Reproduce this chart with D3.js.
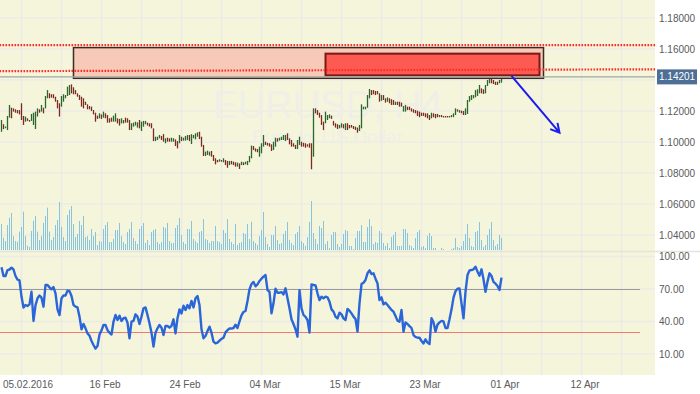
<!DOCTYPE html>
<html>
<head>
<meta charset="utf-8">
<script src="https://cdn.jsdelivr.net/npm/d3@7"></script>
<style>
  body { margin: 0; background: #fff; }
  svg { display: block; font-family: "Liberation Sans", Arial, sans-serif; }
</style>
</head>
<body>
<div id="chart"></div>
<script>
// EURUSD H4, one entry per bar
const barHigh = [
  1.1142,1.1115,1.1100,1.1168,1.1239,1.1221,1.1217,1.1211,1.1206,1.1206,
  1.1250,1.1168,1.1164,1.1153,1.1142,1.1181,1.1189,1.1196,1.1217,1.1211,
  1.1239,1.1221,1.1297,1.1335,1.1314,1.1308,1.1308,1.1292,1.1271,1.1250,
  1.1297,1.1308,1.1303,1.1357,1.1368,1.1372,1.1353,1.1335,1.1314,1.1303,
  1.1292,1.1282,1.1260,1.1243,1.1232,1.1228,1.1206,1.1189,1.1170,1.1185,
  1.1178,1.1196,1.1185,1.1174,1.1153,1.1157,1.1170,1.1185,1.1153,1.1149,
  1.1153,1.1142,1.1157,1.1153,
  1.1142,1.1121,1.1125,1.1131,1.1127,1.1142,1.1131,1.1136,1.1136,1.1125,
  1.1121,1.1121,1.1088,1.1034,1.1034,1.1045,1.1039,1.1051,1.1024,1.1028,
  1.1024,1.1028,1.1024,1.1017,1.1006,1.1045,1.1034,1.1028,1.1039,1.1045,
  1.1045,1.1051,1.1045,1.1056,1.1062,1.1066,1.1034,1.0981,1.0938,1.0944,
  1.0938,1.0942,1.0916,1.0895,1.0884,1.0889,1.0884,1.0895,1.0884,1.0878,
  1.0878,1.0878,1.0873,1.0869,1.0867,1.0862,1.0873,1.0869,1.0873,1.0878,
  1.0910,1.0977,
  1.0974,1.0959,1.0955,1.0970,1.0992,1.1045,1.1002,1.0995,1.0992,1.0985,
  1.1002,1.1028,1.1024,1.1028,1.1034,1.1045,1.1045,1.1056,1.1024,1.1013,
  1.0992,1.0981,1.1013,1.1034,1.1002,1.0995,1.0992,1.0985,1.0992,1.0992,
  1.1217,1.1217,1.1206,1.1189,1.1174,1.1131,1.1196,1.1174,1.1178,1.1170,
  1.1136,1.1121,1.1115,1.1110,1.1121,1.1115,1.1121,1.1121,1.1110,1.1110,
  1.1103,1.1099,1.1093,1.1110,1.1243,1.1228,1.1228,1.1303,1.1342,1.1335,
  1.1335,1.1329,1.1329,
  1.1314,1.1303,1.1303,1.1282,1.1288,1.1282,1.1276,1.1271,1.1260,1.1260,
  1.1260,1.1254,1.1232,1.1239,1.1228,1.1228,1.1217,1.1211,1.1206,1.1202,
  1.1196,1.1189,1.1189,1.1185,1.1185,1.1174,1.1189,1.1185,1.1181,1.1181,
  1.1174,1.1174,1.1168,1.1168,1.1168,1.1168,1.1174,1.1185,1.1217,1.1211,
  1.1206,1.1202,1.1200,1.1217,1.1271,1.1297,1.1303,1.1303,1.1335,1.1340,
  1.1368,1.1346,1.1340,1.1368,1.1400,1.1415,1.1411,1.1400,1.1389,1.1389,
  1.1400,1.1432
];
const barLow = [
  1.1066,1.1083,1.1089,1.1077,1.1157,1.1153,1.1196,1.1189,1.1185,1.1178,
  1.1142,1.1110,1.1131,1.1136,1.1131,1.1136,1.1110,1.1084,1.1164,1.1189,
  1.1196,1.1185,1.1217,1.1282,1.1282,1.1286,1.1282,1.1260,1.1217,1.1164,
  1.1228,1.1260,1.1282,1.1297,1.1303,1.1314,1.1308,1.1308,1.1292,1.1271,
  1.1228,1.1217,1.1239,1.1211,1.1211,1.1200,1.1178,1.1131,1.1149,1.1153,
  1.1149,1.1157,1.1153,1.1125,1.1125,1.1131,1.1131,1.1131,1.1120,1.1106,
  1.1120,1.1120,1.1125,1.1125,
  1.1077,1.1077,1.1099,1.1106,1.1093,1.1088,1.1071,1.1099,1.1115,1.1106,
  1.1099,1.1088,1.1006,1.1006,1.1013,1.1024,1.1013,1.1002,1.0992,1.1002,
  1.1002,1.1002,1.1002,1.0974,1.0959,1.0992,1.1006,1.1009,1.1009,1.1013,
  1.1006,1.0987,1.1024,1.1017,1.1034,1.1019,1.0970,1.0910,1.0910,1.0916,
  1.0912,1.0905,1.0878,1.0856,1.0869,1.0873,1.0873,1.0869,1.0851,1.0834,
  1.0851,1.0856,1.0851,1.0841,1.0841,1.0826,1.0851,1.0851,1.0856,1.0851,
  1.0869,1.0895,
  1.0948,1.0938,1.0934,1.0905,1.0927,1.0970,1.0981,1.0977,1.0970,1.0942,
  1.0948,1.0970,1.1002,1.1009,1.1013,1.1013,1.1006,1.1013,1.0985,1.0970,
  1.0970,1.0955,1.0955,1.0981,1.0970,1.0970,1.0963,1.0970,1.0963,1.0824,
  1.0905,1.1185,1.1174,1.1157,1.1110,1.1077,1.1121,1.1142,1.1153,1.1149,
  1.1106,1.1093,1.1084,1.1088,1.1093,1.1088,1.1077,1.1077,1.1088,1.1093,
  1.1084,1.1077,1.1060,1.1071,1.1088,1.1211,1.1211,1.1221,1.1282,1.1303,
  1.1308,1.1303,1.1308,
  1.1260,1.1266,1.1271,1.1254,1.1260,1.1250,1.1239,1.1239,1.1239,1.1239,
  1.1228,1.1228,1.1196,1.1196,1.1206,1.1206,1.1196,1.1189,1.1185,1.1168,
  1.1160,1.1168,1.1168,1.1160,1.1153,1.1142,1.1153,1.1160,1.1153,1.1160,
  1.1160,1.1160,1.1160,1.1160,1.1160,1.1160,1.1160,1.1160,1.1174,1.1196,
  1.1189,1.1185,1.1174,1.1174,1.1181,1.1260,1.1271,1.1282,1.1288,1.1297,
  1.1314,1.1314,1.1310,1.1314,1.1361,1.1379,1.1379,1.1374,1.1368,1.1368,
  1.1379,1.1383
];
// u = bullish bar, d = bearish bar
const barDir = (
  'uduuuddddd' + 'ddudduuuud' + 'uduudddddd' + 'uuuuuddddd' + 'dddddddddu' + 'dudddduudd' + 'uudd' +
  'duuuuduuud' + 'ddduuuddud' + 'duudduduuu' + 'duuuuddduu' + 'uddddududd' + 'udddududuu' + 'uu' +
  'ddduuudddd' + 'uuduuuuddd' + 'dduudddddd' + 'uddddduuud' + 'ddduududdd' + 'ddduuuuuud' + 'ddd' +
  'duddudddud' + 'dduudddddd' + 'dddddduddd' + 'uddddduuud' + 'udduuuuuuu' + 'udduuudddd' + 'uu'
).split('');

const volumes = [
  780,370,270,750,970,1110,420,270,250,550,
  690,1150,420,130,90,570,880,1020,550,300,
  420,810,1020,1270,550,300,390,750,900,1440,
  690,390,270,1050,1210,1320,780,390,480,870,
  750,1020,390,420,300,630,420,540,150,270,
  240,630,750,840,240,240,330,600,600,810,
  420,240,180,540,630,840,360,270,180,630,
  720,810,210,300,150,540,600,630,240,180,
  240,690,660,810,270,210,210,660,750,960,
  450,240,180,630,630,870,330,270,210,540,
  570,930,330,300,210,270,270,720,270,240,
  180,600,510,930,330,240,180,780,150,210,
  240,510,480,780,330,
  850,270,210,150,420,600,1140,390,180,90,
  450,450,720,300,180,210,480,570,840,300,
  210,150,480,540,720,270,210,120,390,840,
  1470,510,330,180,720,660,870,180,270,60,
  450,540,540,180,90,180,480,600,570,120,
  120,30,360,570,570,750,240,240,690,930,
  720,180,240,210,570,510,210,120,210,60,
  390,450,540,120,120,120,630,630,510,150,
  120,60,360,540,600,90,120,60,420,510,
  420,60,60,0,0,60,30,0,0,0,
  30,60,360,90,60,120,270,480,780,360,
  120,90,540,570,840,300,90,150,450,630,
  840,300,120,180,450,360
];

const oscValues = [
  90,82,82,87.5,88,89.7,88,82,78.6,78,
  63,52.8,55.2,54.3,55.8,67.5,40.5,55,61.4,64,
  62,53.7,73.7,73.7,71.5,69.7,71.8,66,51.2,46,
  61.4,64,64,68.5,68,63.5,55.2,53.7,53,44.5,
  32.8,37.7,33.7,29,27,22,18.3,15,17.4,28,
  31.8,36.8,36.8,32,29.7,28,39.8,46,41.4,45.4,
  40.5,43,43.5,39,24.5,39.8,40.5,46.6,44.5,37.7,
  44.5,52.2,53,46,38.3,29.7,16.8,29.7,33.7,36.8,
  34.3,27.5,35.8,35.8,34.3,36,42,29,43,51.2,
  47.5,54.6,50.6,55.2,52.2,59,53,61.4,63.5,55.2,
  32.8,24.5,26.6,31.2,35.2,29.7,21.4,19.8,20.5,22.3,
  24,25,30,32,33.5,33.5,34,37,34,40,
  45.7,48.8,49.7,58.9,69.7,74.6,76.5,72.5,74.3,77.4,
  79.5,81.4,82.9,69,67.5,47.5,56.8,70.3,66.6,66.6,
  67.2,65,70.6,61.4,52.2,42,37.7,32.8,26,69,
  52.2,46,44.2,41.4,29.7,74.3,73.7,73.4,66,59.8,
  62.9,61.4,62.9,62.3,58.3,51.2,49.1,44.5,42.9,48.2,
  46.6,42.9,41.4,51.5,50,47.5,44.5,42.3,30.6,56.8,
  74.6,75.8,78.3,84.5,87.2,83.8,84.5,79.5,75.2,59.8,
  62.3,55.8,57.4,55.2,53,50.6,49.1,45,40.8,39.8,
  50.6,30.6,39.2,37.7,35.8,34,27.5,25.7,25,25,
  22,19.8,23.5,20.5,19.2,43,39.2,30.6,37.1,39.2,
  40.5,40,34,34,42,51,62,68,70.3,70.5,
  56.8,42.9,67.5,82.9,87.2,87.5,88.2,90.6,86,82.3,
  88.2,78.9,67.5,76.8,84.5,82,76.5,74.9,72.8,69,
  80.5
];

const priceTicks = [1.04, 1.06, 1.08, 1.10, 1.12, 1.14, 1.16, 1.18];
const oscTicks = [10, 40, 70, 100];
const oscLevels = [70, 30];
const dateBars = [10, 50, 90, 130, 170, 210, 250, 290];
const dateLabels = ['05.02.2016', '16 Feb', '24 Feb', '04 Mar', '15 Mar', '23 Mar', '01 Apr', '12 Apr'];
const lastPrice = 1.14201;

// drawn objects (bar index / price)
const zoneBars = [36, 271];
const zonePrices = [1.1609, 1.1411];
const targetBars = [162, 269];
const targetPrices = [1.1570, 1.1430];
const levelBars = [-1, 327];
const levelUpper = [1.1625, 1.1625];
const levelLower = [1.1457, 1.1469];
const arrowBars = [255, 279];
const arrowPrices = [1.1426, 1.1060];

const W = 700, H = 394;
const plotRight = 655, plotBottom = 375;

const x = d3.scaleLinear().domain([0, 1]).range([1.5, 3.5]);
const yP = d3.scaleLinear().domain([1.04, 1.18]).range([235, 18]);
const yV = d3.scaleLinear().domain([0, 1650]).range([250, 195]);
const yO = d3.scaleLinear().domain([10, 100]).range([354, 256.5]);

const svg = d3.select('#chart').append('svg')
  .attr('width', W)
  .attr('height', H);

svg.append('rect').attr('width', W).attr('height', H).attr('fill', '#fff');
svg.append('rect')
  .attr('width', plotRight).attr('height', plotBottom)
  .attr('fill', '#f5f5dc');

// grid
const grid = svg.append('g').attr('stroke', '#ebebe4').attr('stroke-width', 1.5);
grid.selectAll('line.h')
  .data(priceTicks)
  .enter().append('line')
  .attr('class', 'h')
  .attr('x1', 0).attr('x2', plotRight)
  .attr('y1', d => yP(d)).attr('y2', d => yP(d));
grid.selectAll('line.o')
  .data(oscTicks)
  .enter().append('line')
  .attr('class', 'o')
  .attr('x1', 0).attr('x2', plotRight)
  .attr('y1', d => yO(d)).attr('y2', d => yO(d));
grid.selectAll('line.v')
  .data(d3.range(10, 311, 20))
  .enter().append('line')
  .attr('class', 'v')
  .attr('x1', d => x(d)).attr('x2', d => x(d))
  .attr('y1', 0).attr('y2', plotBottom);

// pane separator
svg.append('line')
  .attr('x1', 0).attr('x2', W)
  .attr('y1', 251.5).attr('y2', 251.5)
  .attr('stroke', '#e4e4dc').attr('stroke-width', 1.5);

// watermark
svg.append('text')
  .attr('x', plotRight / 2).attr('y', 118)
  .attr('text-anchor', 'middle')
  .attr('font-size', 38)
  .attr('fill', '#efefe8')
  .text('EURUSD, H4');
svg.append('text')
  .attr('x', plotRight / 2).attr('y', 143)
  .attr('text-anchor', 'middle')
  .attr('font-size', 19)
  .attr('fill', '#efefe8')
  .text('Euro vs US Dollar');

// oscillator levels
svg.selectAll('line.level')
  .data(oscLevels)
  .enter().append('line')
  .attr('class', 'level')
  .attr('x1', 0).attr('x2', 640)
  .attr('y1', d => Math.round(yO(d)) + 0.5).attr('y2', d => Math.round(yO(d)) + 0.5)
  .attr('stroke', d => d === 70 ? '#9a9a9a' : '#f07a70')
  .attr('stroke-width', 1);

// volume
svg.append('g').selectAll('line')
  .data(volumes)
  .enter().append('line')
  .attr('x1', (d, i) => x(i)).attr('x2', (d, i) => x(i))
  .attr('y1', yV(0)).attr('y2', d => yV(d))
  .attr('stroke', '#86c4df')
  .attr('stroke-width', 1);

// price bars
svg.append('g').selectAll('line')
  .data(barHigh)
  .enter().append('line')
  .attr('x1', (d, i) => x(i)).attr('x2', (d, i) => x(i))
  .attr('y1', d => yP(d))
  .attr('y2', (d, i) => Math.max(yP(barLow[i]), yP(d) + 1.5))
  .attr('stroke', (d, i) => barDir[i] === 'u' ? '#2b672d' : '#7b2b22')
  .attr('stroke-width', 1.3);

// zones
svg.append('rect')
  .attr('x', x(zoneBars[0])).attr('y', yP(zonePrices[0]))
  .attr('width', x(zoneBars[1]) - x(zoneBars[0]))
  .attr('height', yP(zonePrices[1]) - yP(zonePrices[0]))
  .attr('fill', '#f6cab6')
  .attr('stroke', '#3c2a24').attr('stroke-width', 1.5);
svg.append('rect')
  .attr('x', x(targetBars[0])).attr('y', yP(targetPrices[0]))
  .attr('width', x(targetBars[1]) - x(targetBars[0]))
  .attr('height', yP(targetPrices[1]) - yP(targetPrices[0]))
  .attr('fill', '#fd5a52')
  .attr('stroke', '#7a1a18').attr('stroke-width', 2);

// dotted levels
[levelUpper, levelLower].forEach(lv => {
  svg.append('line')
    .attr('x1', x(levelBars[0])).attr('x2', x(levelBars[1]))
    .attr('y1', yP(lv[0])).attr('y2', yP(lv[1]))
    .attr('stroke', '#ff2b2b')
    .attr('stroke-width', 2.2)
    .attr('stroke-dasharray', '1.6,1.4');
});

// current price
svg.append('line')
  .attr('x1', 0).attr('x2', plotRight)
  .attr('y1', yP(lastPrice)).attr('y2', yP(lastPrice))
  .attr('stroke', '#9ea8a2').attr('stroke-width', 1.2);

// arrow
const ax0 = x(arrowBars[0]), ay0 = yP(arrowPrices[0]);
const ax1 = x(arrowBars[1]), ay1 = yP(arrowPrices[1]);
const ang = Math.atan2(ay1 - ay0, ax1 - ax0);
const head = 10;
svg.append('path')
  .attr('d', `M${ax0},${ay0}L${ax1},${ay1}` +
    `M${ax1 - head * Math.cos(ang - 0.5)},${ay1 - head * Math.sin(ang - 0.5)}L${ax1},${ay1}` +
    `L${ax1 - head * Math.cos(ang + 0.5)},${ay1 - head * Math.sin(ang + 0.5)}`)
  .attr('fill', 'none')
  .attr('stroke', '#1c1cf0')
  .attr('stroke-width', 2);

// oscillator
svg.append('path')
  .datum(oscValues)
  .attr('d', d3.line().x((d, i) => x(i)).y(d => yO(d)))
  .attr('fill', 'none')
  .attr('stroke', '#2b66d9')
  .attr('stroke-width', 2.4)
  .attr('stroke-linejoin', 'round');

// axes
const gPrice = svg.append('g')
  .attr('transform', `translate(${plotRight},0)`)
  .call(d3.axisRight(yP)
    .tickValues(priceTicks.filter(t => t !== 1.14))
    .tickFormat(d3.format('.5f'))
    .tickSize(0).tickPadding(4));
const gOsc = svg.append('g')
  .attr('transform', `translate(${plotRight},0)`)
  .call(d3.axisRight(yO)
    .tickValues(oscTicks)
    .tickFormat(d3.format('.2f'))
    .tickSize(0).tickPadding(4));
const gDate = svg.append('g')
  .attr('transform', `translate(3,${plotBottom})`)
  .call(d3.axisBottom(x)
    .tickValues(dateBars)
    .tickFormat((d, i) => dateLabels[i])
    .tickSize(0).tickPadding(6));
[gPrice, gOsc, gDate].forEach(g => {
  g.select('.domain').remove();
  g.selectAll('text')
    .attr('font-family', '"Liberation Sans", Arial, sans-serif')
    .attr('font-size', 10)
    .attr('fill', '#5a5a5a');
});
// first date label sits a little further right
gDate.selectAll('text').filter((d, i) => i === 0).attr('dx', 3);

// last price label
svg.append('rect')
  .attr('x', 657).attr('y', yP(lastPrice) - 7.5)
  .attr('width', 40).attr('height', 15)
  .attr('fill', '#4d6f95');
svg.append('text')
  .attr('x', 659).attr('y', yP(lastPrice) + 3.6)
  .attr('font-size', 10)
  .attr('fill', '#fff')
  .text(d3.format('.5f')(lastPrice));
</script>
</body>
</html>
